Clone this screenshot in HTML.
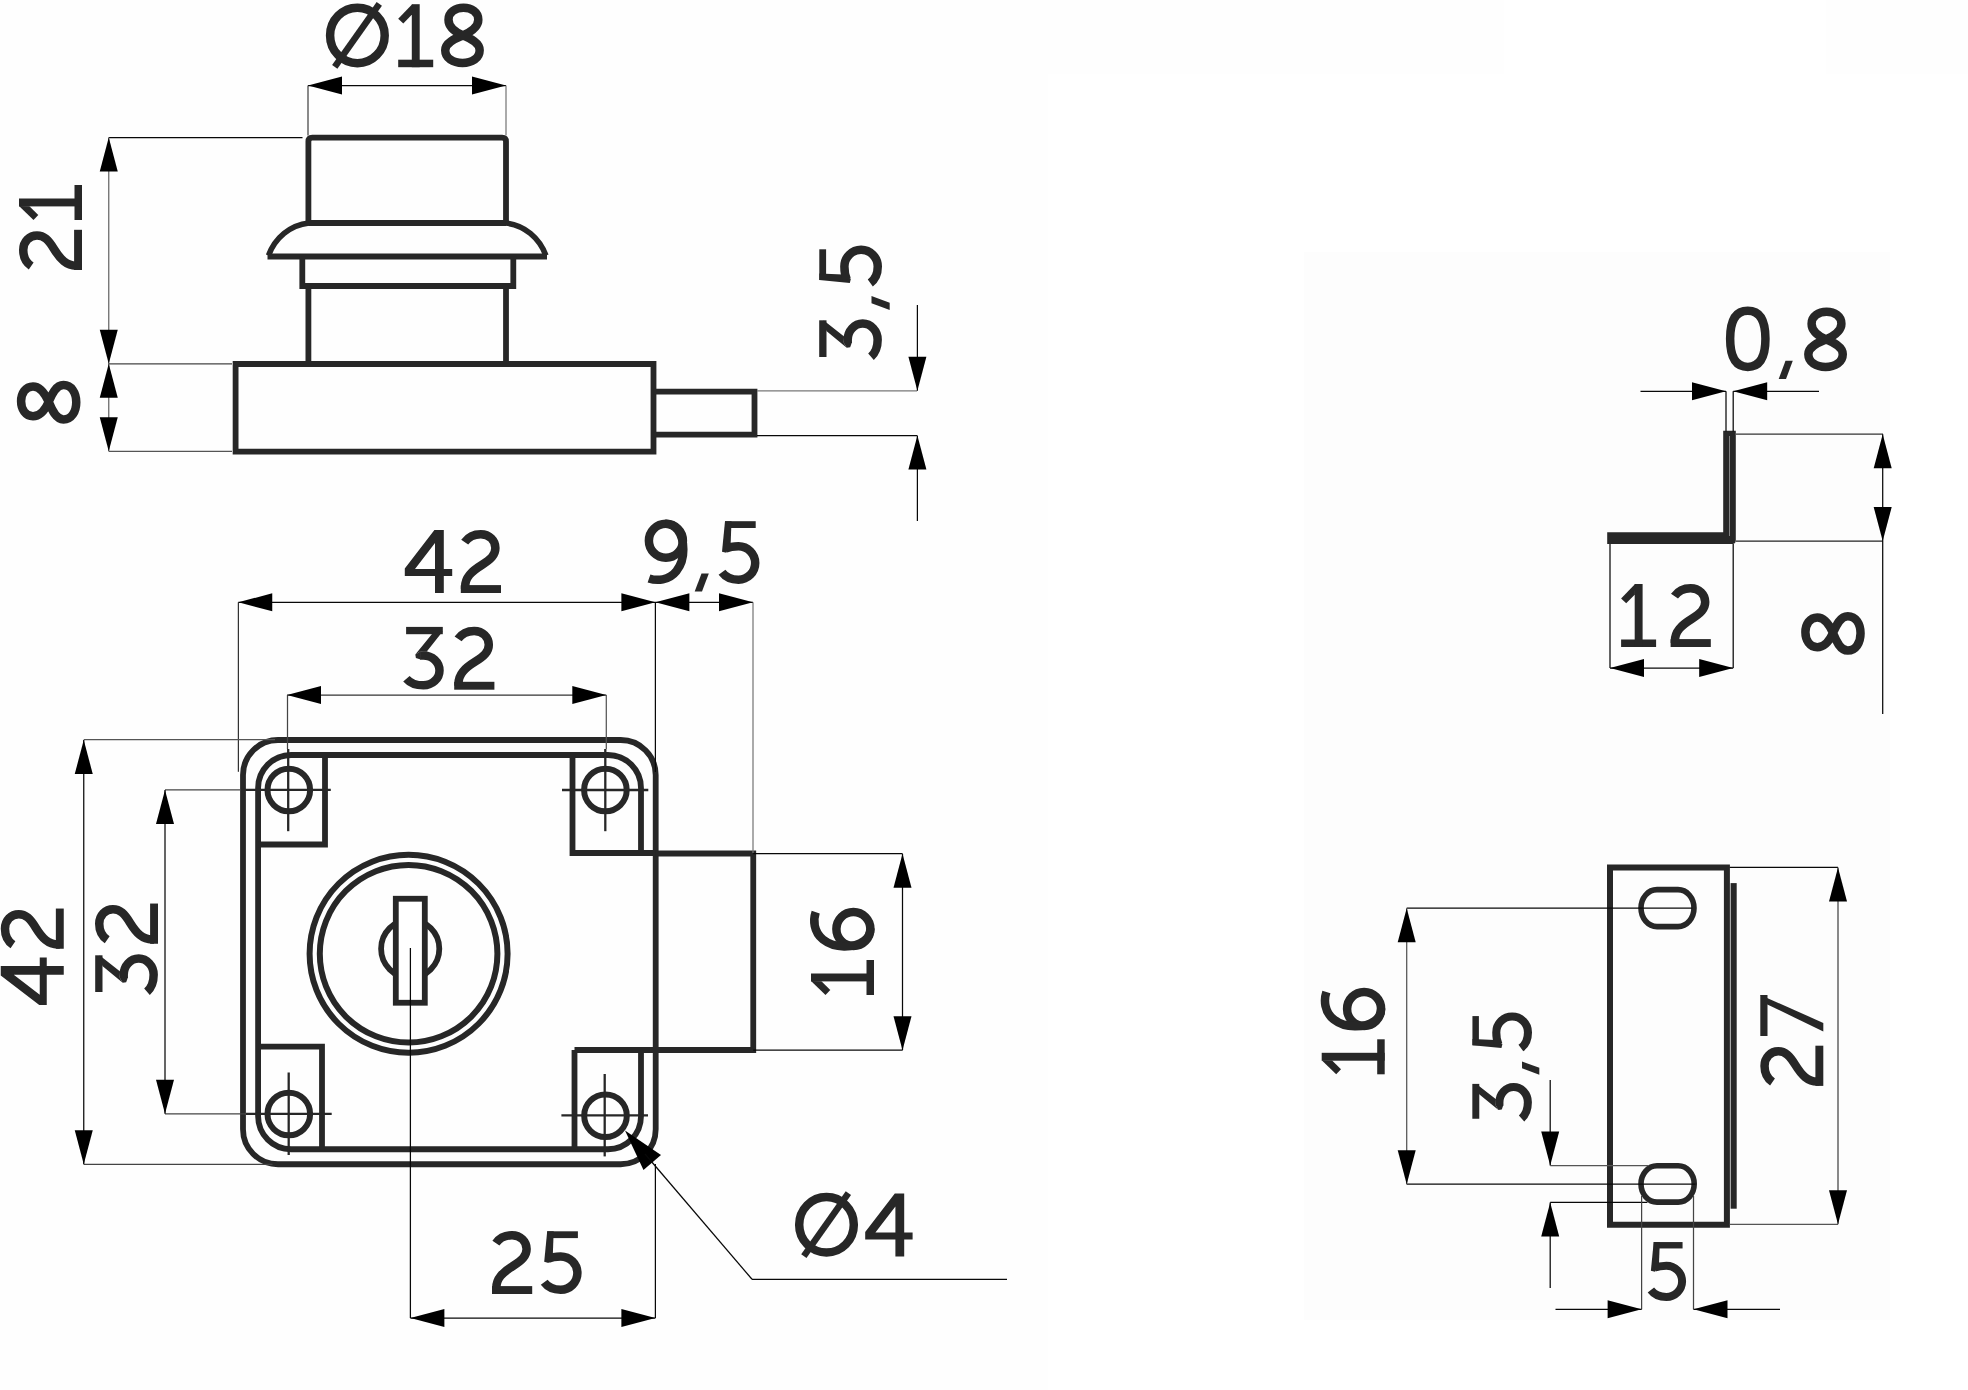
<!DOCTYPE html>
<html><head><meta charset="utf-8"><title>Lock drawing</title>
<style>
html,body{margin:0;padding:0;background:#fff;width:1968px;height:1390px;overflow:hidden;font-family:"Liberation Sans",sans-serif;}
svg{display:block}
</style></head><body>
<svg width="1968" height="1390" viewBox="0 0 1968 1390">
<rect width="1968" height="1390" fill="#ffffff"/>
<rect x="0" y="0" width="1048" height="1390" fill="#fefefe"/>
<rect x="1048" y="0" width="456" height="74" fill="#fefefe"/>
<rect x="1826" y="0" width="142" height="74" fill="#fefefe"/>
<rect x="1304" y="252" width="586" height="1068" fill="#fdfdfd"/>
<path d="M308.4,223 V141.6 Q308.4,137.7 312.3,137.7 H502.1 Q506,137.7 506,141.6 V223" fill="none" stroke="#272727" stroke-width="5.8" />
<path d="M308.4,223 H506" fill="none" stroke="#272727" stroke-width="5.8" />
<path d="M309,223 C290,225 275,238 268.5,255.5" fill="none" stroke="#272727" stroke-width="5.6" />
<path d="M505.4,223 C524.4,225 539.4,238 545.9,255.5" fill="none" stroke="#272727" stroke-width="5.6" />
<path d="M267.5,256.5 H547" fill="none" stroke="#272727" stroke-width="5.8" />
<path d="M302.3,256.5 V286 H513.3 V256.5" fill="none" stroke="#272727" stroke-width="5.8" />
<path d="M308.4,286 V364" fill="none" stroke="#272727" stroke-width="5.8" />
<path d="M506,286 V364" fill="none" stroke="#272727" stroke-width="5.8" />
<path d="M235.6,364 H653.5 V451.6 H235.6 Z" fill="none" stroke="#272727" stroke-width="5.8" />
<path d="M653.5,391.6 H754.5 V434.7 H653.5" fill="none" stroke="#272727" stroke-width="5.8" />
<line x1="308" y1="85.5" x2="506" y2="85.5" stroke="#080808" stroke-width="1.25"/>
<line x1="308" y1="85.5" x2="308" y2="135.5" stroke="#444" stroke-width="1.25"/>
<line x1="506" y1="85.5" x2="506" y2="135.5" stroke="#777" stroke-width="1.25"/>
<polygon points="308.00,85.50 342.00,76.50 342.00,94.50" fill="#000"/>
<polygon points="506.00,85.50 472.00,94.50 472.00,76.50" fill="#000"/>
<g transform="translate(325.9,67.2)" fill="#272727" stroke="#272727" stroke-width="0"><ellipse cx="31.5" cy="-31.75" rx="27.3" ry="27.75" fill="none" stroke-width="8.5"/><line x1="8.85" y1="-0.35" x2="53.4" y2="-63.3" stroke-width="6.5"/></g>
<g transform="translate(398.2,67.2)" fill="#272727" stroke="#272727" stroke-width="0"><rect x="0" y="-7.5" width="35" height="7.5"/><rect x="13.6" y="-63" width="7.9" height="63"/><polygon points="14,-63 0,-48.5 5.1,-43.7 13.8,-52.6"/></g>
<g transform="translate(441,67.2)" fill="#272727" stroke="#272727" stroke-width="0"><path d="M21.9,-31.8 C28,-34.5 37.3,-39 37.3,-47.5 C37.3,-55 30.5,-59.4 22.5,-59.4 C14.5,-59.4 7.5,-55 7.5,-47.5 C7.5,-39 15.8,-34.5 21.9,-31.8 C28.5,-29 38.65,-25 38.65,-17 C38.65,-9 31,-4.25 21.5,-4.25 C12,-4.25 4.25,-9 4.25,-17 C4.25,-25 15,-29 21.9,-31.8 Z" fill="none" stroke-width="8.5" stroke-linejoin="round"/></g>
<line x1="108.75" y1="137.5" x2="302.5" y2="137.5" stroke="#080808" stroke-width="1.25"/>
<line x1="108.75" y1="137.5" x2="108.75" y2="451.25" stroke="#666" stroke-width="1.25"/>
<polygon points="108.75,137.50 117.75,171.50 99.75,171.50" fill="#000"/>
<polygon points="108.75,363.75 99.75,329.75 117.75,329.75" fill="#000"/>
<g transform="translate(82,270) rotate(-90)" fill="#272727" stroke="#272727" stroke-width="0"><rect x="0" y="-7.9" width="40.2" height="7.9"/><path d="M3.9,-50.8 C7.5,-56 13,-58.75 20,-58.75 C28.5,-58.75 34.6,-52.5 34.6,-45 C34.6,-38 30,-33.5 21,-28 C10.5,-21.5 4.3,-15.5 4.3,-6 L4.3,-4" fill="none" stroke-width="8.5"/></g>
<g transform="translate(82,220) rotate(-90)" fill="#272727" stroke="#272727" stroke-width="0"><rect x="0" y="-7.5" width="35" height="7.5"/><rect x="13.6" y="-63" width="7.9" height="63"/><polygon points="14,-63 0,-48.5 5.1,-43.7 13.8,-52.6"/></g>
<line x1="108.75" y1="363.75" x2="232" y2="363.75" stroke="#444" stroke-width="1.25"/>
<line x1="108.75" y1="451.25" x2="232" y2="451.25" stroke="#555" stroke-width="1.25"/>
<polygon points="108.75,363.75 117.75,397.75 99.75,397.75" fill="#000"/>
<polygon points="108.75,451.25 99.75,417.25 117.75,417.25" fill="#000"/>
<g transform="translate(80.5,423.75) rotate(-90)" fill="#272727" stroke="#272727" stroke-width="0"><path d="M21.9,-31.8 C28,-34.5 37.3,-39 37.3,-47.5 C37.3,-55 30.5,-59.4 22.5,-59.4 C14.5,-59.4 7.5,-55 7.5,-47.5 C7.5,-39 15.8,-34.5 21.9,-31.8 C28.5,-29 38.65,-25 38.65,-17 C38.65,-9 31,-4.25 21.5,-4.25 C12,-4.25 4.25,-9 4.25,-17 C4.25,-25 15,-29 21.9,-31.8 Z" fill="none" stroke-width="8.5" stroke-linejoin="round"/></g>
<line x1="757" y1="390.75" x2="917" y2="390.75" stroke="#777" stroke-width="1.25"/>
<line x1="757" y1="435.5" x2="917" y2="435.5" stroke="#080808" stroke-width="1.25"/>
<line x1="917.4" y1="305" x2="917.4" y2="390.75" stroke="#080808" stroke-width="1.25"/>
<line x1="917.4" y1="435.5" x2="917.4" y2="521" stroke="#080808" stroke-width="1.25"/>
<polygon points="917.40,390.75 908.40,356.75 926.40,356.75" fill="#000"/>
<polygon points="917.40,435.50 926.40,469.50 908.40,469.50" fill="#000"/>
<g transform="translate(882,360) rotate(-90)" fill="#272727" stroke="#272727" stroke-width="0"><rect x="3" y="-62.8" width="36.7" height="7.3"/><polygon points="28.9,-55.6 39.7,-58.5 23.5,-37.9 17.5,-38.45 12.2,-35.3"/><polygon points="12.2,-35.3 17.5,-38.45 17.5,-30.15 12.8,-31.8"/><path d="M17,-34.3 L20.3,-34.3 C29.2,-34.3 36.4,-27.6 36.4,-19.3 C36.4,-11 29.2,-4.35 20.3,-4.35 C13,-4.35 7,-6.8 3.3,-11" fill="none" stroke-width="8.5"/></g>
<g transform="translate(882,310) rotate(-90)" fill="#272727" stroke="#272727" stroke-width="0"><polygon points="6.8,-10.5 14.1,-10.5 7.3,7.7 0,7.7"/></g>
<g transform="translate(882,285) rotate(-90)" fill="#272727" stroke="#272727" stroke-width="0"><rect x="5" y="-62.7" width="30.7" height="6.8"/><polygon points="5,-62.7 11.5,-62.7 10.6,-39 6.3,-31.1 2,-32.2"/><path d="M5.5,-35.2 C9.5,-37 14,-37.6 18.5,-37.6 C27.7,-37.6 35.2,-30.1 35.2,-20.9 C35.2,-11.7 27.7,-4.25 18.5,-4.25 C11.5,-4.25 5.5,-7 2,-11.7" fill="none" stroke-width="8.5"/></g>
<path d="M278,740 H620.7 A35,35 0 0 1 655.7,775 V1129.25 A35,35 0 0 1 620.7,1164.25 H278 A35,35 0 0 1 243,1129.25 V775 A35,35 0 0 1 278,740 Z" fill="none" stroke="#272727" stroke-width="5.8" />
<path d="M641,853 V788 A33,33 0 0 0 608,755 H291.1 A33,33 0 0 0 258.1,788 V1116.25 A33,33 0 0 0 291.1,1149.25 H608 A33,33 0 0 0 641,1116.25 V1050" fill="none" stroke="#272727" stroke-width="5.8" />
<path d="M325,755 V844.5 H258.1" fill="none" stroke="#272727" stroke-width="5.8" />
<path d="M572.5,755 V853 H655.7" fill="none" stroke="#272727" stroke-width="5.8" />
<path d="M258.1,1046.6 H322 V1149.25" fill="none" stroke="#272727" stroke-width="5.8" />
<path d="M574.5,1149.25 V1050" fill="none" stroke="#272727" stroke-width="5.8" />
<path d="M655.7,853.5 H753.25 V1050 H574.5" fill="none" stroke="#272727" stroke-width="5.8" />
<circle cx="288.8" cy="790" r="21.3" fill="none" stroke="#272727" stroke-width="6"/>
<circle cx="605.4" cy="790" r="21.3" fill="none" stroke="#272727" stroke-width="6"/>
<circle cx="288.8" cy="1114" r="21.3" fill="none" stroke="#272727" stroke-width="6"/>
<circle cx="605.5" cy="1115.8" r="21.3" fill="none" stroke="#272727" stroke-width="6"/>
<line x1="240.8" y1="789.8" x2="330.8" y2="789.8" stroke="#272727" stroke-width="2.3"/>
<line x1="288.2" y1="749" x2="288.2" y2="831.2" stroke="#272727" stroke-width="2.3"/>
<line x1="562" y1="790" x2="648.3" y2="790" stroke="#272727" stroke-width="2.3"/>
<line x1="605.3" y1="749" x2="605.3" y2="831.2" stroke="#272727" stroke-width="2.3"/>
<line x1="246" y1="1113.8" x2="331.7" y2="1113.8" stroke="#272727" stroke-width="2.3"/>
<line x1="288.7" y1="1072.5" x2="288.7" y2="1155" stroke="#272727" stroke-width="2.3"/>
<line x1="561.4" y1="1115.4" x2="648" y2="1115.4" stroke="#272727" stroke-width="2.3"/>
<line x1="604.7" y1="1074" x2="604.7" y2="1156.4" stroke="#272727" stroke-width="2.3"/>
<circle cx="408.6" cy="953.75" r="99" fill="none" stroke="#272727" stroke-width="6"/>
<circle cx="408.6" cy="953.75" r="88.8" fill="none" stroke="#272727" stroke-width="6"/>
<circle cx="410.2" cy="948.75" r="29.1" fill="none" stroke="#272727" stroke-width="5.8"/>
<rect x="395.8" y="898.75" width="29" height="104" fill="#fff" stroke="#272727" stroke-width="5.8"/>
<line x1="410.4" y1="948" x2="410.4" y2="1318" stroke="#080808" stroke-width="1.25"/>
<line x1="238.25" y1="602.3" x2="753" y2="602.3" stroke="#080808" stroke-width="1.25"/>
<line x1="238.4" y1="602.3" x2="238.4" y2="771.8" stroke="#333" stroke-width="1.25"/>
<line x1="655.4" y1="602.3" x2="655.4" y2="772" stroke="#080808" stroke-width="1.25"/>
<line x1="753" y1="602.3" x2="753" y2="853" stroke="#777" stroke-width="1.25"/>
<polygon points="238.25,602.30 272.25,593.30 272.25,611.30" fill="#000"/>
<polygon points="655.40,602.30 621.40,611.30 621.40,593.30" fill="#000"/>
<polygon points="655.40,602.30 689.40,593.30 689.40,611.30" fill="#000"/>
<polygon points="753.00,602.30 719.00,611.30 719.00,593.30" fill="#000"/>
<g transform="translate(404.8,593)" fill="#272727" stroke="#272727" stroke-width="0"><path fill-rule="evenodd" d="M29.6,-63 L39,-63 L39,-24 L47.4,-24 L47.4,-17 L39,-17 L39,0 L30.2,0 L30.2,-17 L0,-17 L0,-24.5 Z M30.2,-50 L30.2,-24 L10.2,-24 Z"/></g>
<g transform="translate(460.8,593)" fill="#272727" stroke="#272727" stroke-width="0"><rect x="0" y="-7.9" width="40.2" height="7.9"/><path d="M3.9,-50.8 C7.5,-56 13,-58.75 20,-58.75 C28.5,-58.75 34.6,-52.5 34.6,-45 C34.6,-38 30,-33.5 21,-28 C10.5,-21.5 4.3,-15.5 4.3,-6 L4.3,-4" fill="none" stroke-width="8.5"/></g>
<g transform="translate(644.9,583.9)" fill="#272727" stroke="#272727" stroke-width="0"><g transform="rotate(180 21 -31.9)"><circle cx="21" cy="-20.6" r="17" fill="none" stroke-width="8.5"/><path d="M37.9,-58.3 C30,-61 18,-60.5 10.5,-51 C5,-44 3.5,-36 3.6,-29.4 C3.7,-12 12,-3.6 21.5,-3.6" fill="none" stroke-width="8.5"/></g></g>
<g transform="translate(694.7,583.9)" fill="#272727" stroke="#272727" stroke-width="0"><polygon points="6.8,-10.5 14.1,-10.5 7.3,7.7 0,7.7"/></g>
<g transform="translate(720,583.9)" fill="#272727" stroke="#272727" stroke-width="0"><rect x="5" y="-62.7" width="30.7" height="6.8"/><polygon points="5,-62.7 11.5,-62.7 10.6,-39 6.3,-31.1 2,-32.2"/><path d="M5.5,-35.2 C9.5,-37 14,-37.6 18.5,-37.6 C27.7,-37.6 35.2,-30.1 35.2,-20.9 C35.2,-11.7 27.7,-4.25 18.5,-4.25 C11.5,-4.25 5.5,-7 2,-11.7" fill="none" stroke-width="8.5"/></g>
<line x1="287" y1="695" x2="606.3" y2="695" stroke="#333" stroke-width="1.25"/>
<line x1="287.5" y1="695" x2="287.5" y2="749" stroke="#444" stroke-width="1.25"/>
<line x1="606.3" y1="695" x2="606.3" y2="749" stroke="#555" stroke-width="1.25"/>
<polygon points="287.00,695.00 321.00,686.00 321.00,704.00" fill="#000"/>
<polygon points="606.30,695.00 572.30,704.00 572.30,686.00" fill="#000"/>
<g transform="translate(403.1,689.7)" fill="#272727" stroke="#272727" stroke-width="0"><rect x="3" y="-62.8" width="36.7" height="7.3"/><polygon points="28.9,-55.6 39.7,-58.5 23.5,-37.9 17.5,-38.45 12.2,-35.3"/><polygon points="12.2,-35.3 17.5,-38.45 17.5,-30.15 12.8,-31.8"/><path d="M17,-34.3 L20.3,-34.3 C29.2,-34.3 36.4,-27.6 36.4,-19.3 C36.4,-11 29.2,-4.35 20.3,-4.35 C13,-4.35 7,-6.8 3.3,-11" fill="none" stroke-width="8.5"/></g>
<g transform="translate(454.2,689.7)" fill="#272727" stroke="#272727" stroke-width="0"><rect x="0" y="-7.9" width="40.2" height="7.9"/><path d="M3.9,-50.8 C7.5,-56 13,-58.75 20,-58.75 C28.5,-58.75 34.6,-52.5 34.6,-45 C34.6,-38 30,-33.5 21,-28 C10.5,-21.5 4.3,-15.5 4.3,-6 L4.3,-4" fill="none" stroke-width="8.5"/></g>
<line x1="83.75" y1="739.6" x2="275" y2="739.6" stroke="#555" stroke-width="1.25"/>
<line x1="83.75" y1="1164.25" x2="272.5" y2="1164.25" stroke="#444" stroke-width="1.25"/>
<line x1="83.75" y1="740" x2="83.75" y2="1164.25" stroke="#080808" stroke-width="1.25"/>
<polygon points="83.75,740.00 92.75,774.00 74.75,774.00" fill="#000"/>
<polygon points="83.75,1164.25 74.75,1130.25 92.75,1130.25" fill="#000"/>
<g transform="translate(63.75,1005) rotate(-90)" fill="#272727" stroke="#272727" stroke-width="0"><path fill-rule="evenodd" d="M29.6,-63 L39,-63 L39,-24 L47.4,-24 L47.4,-17 L39,-17 L39,0 L30.2,0 L30.2,-17 L0,-17 L0,-24.5 Z M30.2,-50 L30.2,-24 L10.2,-24 Z"/></g>
<g transform="translate(63.75,948.75) rotate(-90)" fill="#272727" stroke="#272727" stroke-width="0"><rect x="0" y="-7.9" width="40.2" height="7.9"/><path d="M3.9,-50.8 C7.5,-56 13,-58.75 20,-58.75 C28.5,-58.75 34.6,-52.5 34.6,-45 C34.6,-38 30,-33.5 21,-28 C10.5,-21.5 4.3,-15.5 4.3,-6 L4.3,-4" fill="none" stroke-width="8.5"/></g>
<line x1="165" y1="789.8" x2="240.8" y2="789.8" stroke="#444" stroke-width="1.25"/>
<line x1="165" y1="1113.8" x2="246" y2="1113.8" stroke="#444" stroke-width="1.25"/>
<line x1="165" y1="790" x2="165" y2="1113.75" stroke="#080808" stroke-width="1.25"/>
<polygon points="165.00,790.00 174.00,824.00 156.00,824.00" fill="#000"/>
<polygon points="165.00,1113.75 156.00,1079.75 174.00,1079.75" fill="#000"/>
<g transform="translate(158,995) rotate(-90)" fill="#272727" stroke="#272727" stroke-width="0"><rect x="3" y="-62.8" width="36.7" height="7.3"/><polygon points="28.9,-55.6 39.7,-58.5 23.5,-37.9 17.5,-38.45 12.2,-35.3"/><polygon points="12.2,-35.3 17.5,-38.45 17.5,-30.15 12.8,-31.8"/><path d="M17,-34.3 L20.3,-34.3 C29.2,-34.3 36.4,-27.6 36.4,-19.3 C36.4,-11 29.2,-4.35 20.3,-4.35 C13,-4.35 7,-6.8 3.3,-11" fill="none" stroke-width="8.5"/></g>
<g transform="translate(158,943.75) rotate(-90)" fill="#272727" stroke="#272727" stroke-width="0"><rect x="0" y="-7.9" width="40.2" height="7.9"/><path d="M3.9,-50.8 C7.5,-56 13,-58.75 20,-58.75 C28.5,-58.75 34.6,-52.5 34.6,-45 C34.6,-38 30,-33.5 21,-28 C10.5,-21.5 4.3,-15.5 4.3,-6 L4.3,-4" fill="none" stroke-width="8.5"/></g>
<line x1="753.25" y1="853.6" x2="902.5" y2="853.6" stroke="#080808" stroke-width="1.25"/>
<line x1="753.25" y1="1050.2" x2="902.5" y2="1050.2" stroke="#080808" stroke-width="1.25"/>
<line x1="902.5" y1="853.75" x2="902.5" y2="1050.2" stroke="#080808" stroke-width="1.25"/>
<polygon points="902.50,853.75 911.50,887.75 893.50,887.75" fill="#000"/>
<polygon points="902.50,1050.20 893.50,1016.20 911.50,1016.20" fill="#000"/>
<g transform="translate(874,995) rotate(-90)" fill="#272727" stroke="#272727" stroke-width="0"><rect x="0" y="-7.5" width="35" height="7.5"/><rect x="13.6" y="-63" width="7.9" height="63"/><polygon points="14,-63 0,-48.5 5.1,-43.7 13.8,-52.6"/></g>
<g transform="translate(874,950) rotate(-90)" fill="#272727" stroke="#272727" stroke-width="0"><circle cx="21" cy="-20.6" r="17" fill="none" stroke-width="8.5"/><path d="M37.9,-58.3 C30,-61 18,-60.5 10.5,-51 C5,-44 3.5,-36 3.6,-29.4 C3.7,-12 12,-3.6 21.5,-3.6" fill="none" stroke-width="8.5"/></g>
<line x1="655.4" y1="1164" x2="655.4" y2="1318" stroke="#080808" stroke-width="1.25"/>
<line x1="410.4" y1="1318" x2="655.4" y2="1318" stroke="#080808" stroke-width="1.25"/>
<polygon points="410.40,1318.00 444.40,1309.00 444.40,1327.00" fill="#000"/>
<polygon points="655.40,1318.00 621.40,1327.00 621.40,1309.00" fill="#000"/>
<g transform="translate(492,1294)" fill="#272727" stroke="#272727" stroke-width="0"><rect x="0" y="-7.9" width="40.2" height="7.9"/><path d="M3.9,-50.8 C7.5,-56 13,-58.75 20,-58.75 C28.5,-58.75 34.6,-52.5 34.6,-45 C34.6,-38 30,-33.5 21,-28 C10.5,-21.5 4.3,-15.5 4.3,-6 L4.3,-4" fill="none" stroke-width="8.5"/></g>
<g transform="translate(542.2,1294)" fill="#272727" stroke="#272727" stroke-width="0"><rect x="5" y="-62.7" width="30.7" height="6.8"/><polygon points="5,-62.7 11.5,-62.7 10.6,-39 6.3,-31.1 2,-32.2"/><path d="M5.5,-35.2 C9.5,-37 14,-37.6 18.5,-37.6 C27.7,-37.6 35.2,-30.1 35.2,-20.9 C35.2,-11.7 27.7,-4.25 18.5,-4.25 C11.5,-4.25 5.5,-7 2,-11.7" fill="none" stroke-width="8.5"/></g>
<polygon points="625.00,1130.60 660.99,1155.12 643.47,1170.03" fill="#000"/>
<line x1="645" y1="1154" x2="752" y2="1279.25" stroke="#080808" stroke-width="1.25"/>
<line x1="752" y1="1279.4" x2="1007" y2="1279.4" stroke="#080808" stroke-width="1.25"/>
<g transform="translate(795,1256.5)" fill="#272727" stroke="#272727" stroke-width="0"><ellipse cx="31.5" cy="-31.75" rx="27.3" ry="27.75" fill="none" stroke-width="8.5"/><line x1="8.85" y1="-0.35" x2="53.4" y2="-63.3" stroke-width="6.5"/></g>
<g transform="translate(865.2,1256.5)" fill="#272727" stroke="#272727" stroke-width="0"><path fill-rule="evenodd" d="M29.6,-63 L39,-63 L39,-24 L47.4,-24 L47.4,-17 L39,-17 L39,0 L30.2,0 L30.2,-17 L0,-17 L0,-24.5 Z M30.2,-50 L30.2,-24 L10.2,-24 Z"/></g>
<path d="M1723.2,430.8 H1735.8 V540.5 Q1735.8,543.9 1732.4,543.9 H1607.2 V532.3 H1723.2 Z" fill="#272727"/>
<line x1="1729.5" y1="436" x2="1729.5" y2="536" stroke="#999" stroke-width="0.8"/>
<line x1="1640.5" y1="391.3" x2="1726" y2="391.3" stroke="#080808" stroke-width="1.25"/>
<line x1="1733.2" y1="391.3" x2="1819" y2="391.3" stroke="#080808" stroke-width="1.25"/>
<polygon points="1726.00,391.30 1692.00,400.30 1692.00,382.30" fill="#000"/>
<polygon points="1733.20,391.30 1767.20,382.30 1767.20,400.30" fill="#000"/>
<line x1="1726" y1="391.3" x2="1726" y2="431.5" stroke="#080808" stroke-width="1.25"/>
<line x1="1733.2" y1="391.3" x2="1733.2" y2="431.5" stroke="#080808" stroke-width="1.25"/>
<g transform="translate(1725.7,371.2)" fill="#272727" stroke="#272727" stroke-width="0"><path d="M22.1,-60.5 C33.75,-60.5 39.75,-50.95 39.75,-32.4 C39.75,-13.85 33.75,-4.3 22.1,-4.3 C10.45,-4.3 4.45,-13.85 4.45,-32.4 C4.45,-50.95 10.45,-60.5 22.1,-60.5 Z" fill="none" stroke-width="8.5"/></g>
<g transform="translate(1778.7,371.2)" fill="#272727" stroke="#272727" stroke-width="0"><polygon points="6.8,-10.5 14.1,-10.5 7.3,7.7 0,7.7"/></g>
<g transform="translate(1804.1,371.2)" fill="#272727" stroke="#272727" stroke-width="0"><path d="M21.9,-31.8 C28,-34.5 37.3,-39 37.3,-47.5 C37.3,-55 30.5,-59.4 22.5,-59.4 C14.5,-59.4 7.5,-55 7.5,-47.5 C7.5,-39 15.8,-34.5 21.9,-31.8 C28.5,-29 38.65,-25 38.65,-17 C38.65,-9 31,-4.25 21.5,-4.25 C12,-4.25 4.25,-9 4.25,-17 C4.25,-25 15,-29 21.9,-31.8 Z" fill="none" stroke-width="8.5" stroke-linejoin="round"/></g>
<line x1="1736" y1="434.2" x2="1883" y2="434.2" stroke="#333" stroke-width="1.25"/>
<line x1="1736" y1="541.1" x2="1883" y2="541.1" stroke="#222" stroke-width="1.25"/>
<line x1="1882.7" y1="434.2" x2="1882.7" y2="714" stroke="#080808" stroke-width="1.25"/>
<polygon points="1882.70,434.20 1891.70,468.20 1873.70,468.20" fill="#000"/>
<polygon points="1882.70,541.10 1873.70,507.10 1891.70,507.10" fill="#000"/>
<g transform="translate(1864.8,654.8) rotate(-90)" fill="#272727" stroke="#272727" stroke-width="0"><path d="M21.9,-31.8 C28,-34.5 37.3,-39 37.3,-47.5 C37.3,-55 30.5,-59.4 22.5,-59.4 C14.5,-59.4 7.5,-55 7.5,-47.5 C7.5,-39 15.8,-34.5 21.9,-31.8 C28.5,-29 38.65,-25 38.65,-17 C38.65,-9 31,-4.25 21.5,-4.25 C12,-4.25 4.25,-9 4.25,-17 C4.25,-25 15,-29 21.9,-31.8 Z" fill="none" stroke-width="8.5" stroke-linejoin="round"/></g>
<line x1="1610" y1="544" x2="1610" y2="668" stroke="#080808" stroke-width="1.25"/>
<line x1="1733.2" y1="544" x2="1733.2" y2="668" stroke="#080808" stroke-width="1.25"/>
<line x1="1610" y1="668" x2="1733.2" y2="668" stroke="#080808" stroke-width="1.25"/>
<polygon points="1610.00,668.00 1644.00,659.00 1644.00,677.00" fill="#000"/>
<polygon points="1733.20,668.00 1699.20,677.00 1699.20,659.00" fill="#000"/>
<g transform="translate(1621.1,647)" fill="#272727" stroke="#272727" stroke-width="0"><rect x="0" y="-7.5" width="35" height="7.5"/><rect x="13.6" y="-63" width="7.9" height="63"/><polygon points="14,-63 0,-48.5 5.1,-43.7 13.8,-52.6"/></g>
<g transform="translate(1670.6,647)" fill="#272727" stroke="#272727" stroke-width="0"><rect x="0" y="-7.9" width="40.2" height="7.9"/><path d="M3.9,-50.8 C7.5,-56 13,-58.75 20,-58.75 C28.5,-58.75 34.6,-52.5 34.6,-45 C34.6,-38 30,-33.5 21,-28 C10.5,-21.5 4.3,-15.5 4.3,-6 L4.3,-4" fill="none" stroke-width="8.5"/></g>
<path d="M1610,867.4 H1726.9 V1224.8 H1610 Z" fill="none" stroke="#272727" stroke-width="6" />
<rect x="1730.6" y="883.1" width="6.1" height="325.6" fill="#272727"/>
<rect x="1641" y="889.6" width="53" height="37" rx="16" ry="18.5" fill="none" stroke="#272727" stroke-width="5.6"/>
<rect x="1641" y="1165.8" width="53.2" height="36.3" rx="16" ry="18.1" fill="none" stroke="#272727" stroke-width="5.6"/>
<line x1="1729.7" y1="867.3" x2="1838" y2="867.3" stroke="#080808" stroke-width="1.25"/>
<line x1="1729.7" y1="1224.4" x2="1838" y2="1224.4" stroke="#555" stroke-width="1.25"/>
<line x1="1838" y1="867.5" x2="1838" y2="1224.2" stroke="#444" stroke-width="1.25"/>
<polygon points="1838.00,867.50 1847.00,901.50 1829.00,901.50" fill="#000"/>
<polygon points="1838.00,1224.20 1829.00,1190.20 1847.00,1190.20" fill="#000"/>
<g transform="translate(1823.3,1085.9) rotate(-90)" fill="#272727" stroke="#272727" stroke-width="0"><rect x="0" y="-7.9" width="40.2" height="7.9"/><path d="M3.9,-50.8 C7.5,-56 13,-58.75 20,-58.75 C28.5,-58.75 34.6,-52.5 34.6,-45 C34.6,-38 30,-33.5 21,-28 C10.5,-21.5 4.3,-15.5 4.3,-6 L4.3,-4" fill="none" stroke-width="8.5"/></g>
<g transform="translate(1823.3,1036) rotate(-90)" fill="#272727" stroke="#272727" stroke-width="0"><rect x="0" y="-63" width="41" height="7.2"/><polygon points="41,-63 13.1,0 4.6,0 32,-57"/></g>
<line x1="1406.7" y1="908.2" x2="1692.3" y2="908.2" stroke="#080808" stroke-width="1.25"/>
<line x1="1406.7" y1="1184.2" x2="1695.5" y2="1184.2" stroke="#080808" stroke-width="1.25"/>
<line x1="1406.7" y1="908.2" x2="1406.7" y2="1184.2" stroke="#555" stroke-width="1.25"/>
<polygon points="1406.70,908.20 1415.70,942.20 1397.70,942.20" fill="#000"/>
<polygon points="1406.70,1184.20 1397.70,1150.20 1415.70,1150.20" fill="#000"/>
<g transform="translate(1384.7,1074.3) rotate(-90)" fill="#272727" stroke="#272727" stroke-width="0"><rect x="0" y="-7.5" width="35" height="7.5"/><rect x="13.6" y="-63" width="7.9" height="63"/><polygon points="14,-63 0,-48.5 5.1,-43.7 13.8,-52.6"/></g>
<g transform="translate(1384.7,1029.9) rotate(-90)" fill="#272727" stroke="#272727" stroke-width="0"><circle cx="21" cy="-20.6" r="17" fill="none" stroke-width="8.5"/><path d="M37.9,-58.3 C30,-61 18,-60.5 10.5,-51 C5,-44 3.5,-36 3.6,-29.4 C3.7,-12 12,-3.6 21.5,-3.6" fill="none" stroke-width="8.5"/></g>
<line x1="1550.2" y1="1080" x2="1550.2" y2="1165.6" stroke="#080808" stroke-width="1.25"/>
<line x1="1550.2" y1="1165.6" x2="1648.5" y2="1165.6" stroke="#555" stroke-width="1.25"/>
<line x1="1550.2" y1="1202.4" x2="1647.4" y2="1202.4" stroke="#080808" stroke-width="1.25"/>
<line x1="1550.2" y1="1202.4" x2="1550.2" y2="1288" stroke="#080808" stroke-width="1.25"/>
<polygon points="1550.20,1165.60 1541.20,1131.60 1559.20,1131.60" fill="#000"/>
<polygon points="1550.20,1202.40 1559.20,1236.40 1541.20,1236.40" fill="#000"/>
<g transform="translate(1532,1121.6) rotate(-90) scale(0.95)" fill="#272727" stroke="#272727" stroke-width="0"><rect x="3" y="-62.8" width="36.7" height="7.3"/><polygon points="28.9,-55.6 39.7,-58.5 23.5,-37.9 17.5,-38.45 12.2,-35.3"/><polygon points="12.2,-35.3 17.5,-38.45 17.5,-30.15 12.8,-31.8"/><path d="M17,-34.3 L20.3,-34.3 C29.2,-34.3 36.4,-27.6 36.4,-19.3 C36.4,-11 29.2,-4.35 20.3,-4.35 C13,-4.35 7,-6.8 3.3,-11" fill="none" stroke-width="8.5"/></g>
<g transform="translate(1532,1074.8) rotate(-90) scale(0.95)" fill="#272727" stroke="#272727" stroke-width="0"><polygon points="6.8,-10.5 14.1,-10.5 7.3,7.7 0,7.7"/></g>
<g transform="translate(1532,1050) rotate(-90) scale(0.95)" fill="#272727" stroke="#272727" stroke-width="0"><rect x="5" y="-62.7" width="30.7" height="6.8"/><polygon points="5,-62.7 11.5,-62.7 10.6,-39 6.3,-31.1 2,-32.2"/><path d="M5.5,-35.2 C9.5,-37 14,-37.6 18.5,-37.6 C27.7,-37.6 35.2,-30.1 35.2,-20.9 C35.2,-11.7 27.7,-4.25 18.5,-4.25 C11.5,-4.25 5.5,-7 2,-11.7" fill="none" stroke-width="8.5"/></g>
<line x1="1641.6" y1="1196" x2="1641.6" y2="1309.3" stroke="#444" stroke-width="1.25"/>
<line x1="1693.5" y1="1196" x2="1693.5" y2="1309.3" stroke="#444" stroke-width="1.25"/>
<line x1="1555.5" y1="1309.3" x2="1641.6" y2="1309.3" stroke="#080808" stroke-width="1.25"/>
<line x1="1693.5" y1="1309.3" x2="1780" y2="1309.3" stroke="#080808" stroke-width="1.25"/>
<polygon points="1641.60,1309.30 1607.60,1318.30 1607.60,1300.30" fill="#000"/>
<polygon points="1693.50,1309.30 1727.50,1300.30 1727.50,1318.30" fill="#000"/>
<g transform="translate(1649,1301) scale(0.94)" fill="#272727" stroke="#272727" stroke-width="0"><rect x="5" y="-62.7" width="30.7" height="6.8"/><polygon points="5,-62.7 11.5,-62.7 10.6,-39 6.3,-31.1 2,-32.2"/><path d="M5.5,-35.2 C9.5,-37 14,-37.6 18.5,-37.6 C27.7,-37.6 35.2,-30.1 35.2,-20.9 C35.2,-11.7 27.7,-4.25 18.5,-4.25 C11.5,-4.25 5.5,-7 2,-11.7" fill="none" stroke-width="8.5"/></g>
</svg>
</body></html>
